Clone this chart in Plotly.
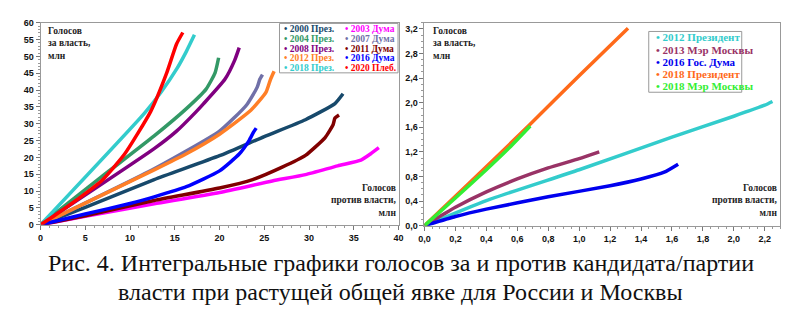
import plotly.graph_objects as go

W, H = 800, 327

# ---------------- Left chart (Russia) ----------------
ru_names = ["2000 През.", "2003 Дума", "2004 През.", "2007 Дума", "2008 През.",
            "2011 Дума", "2012 През.", "2016 Дума", "2018 През.", "2020 Плеб."]
ru_colors = ["#17496B", "#FF00FF", "#339966", "#7070A8", "#800080",
             "#800000", "#FF7F27", "#0000FF", "#33CCCC", "#FF0000"]
ru_x = [
    [0, 5, 12.7, 20, 25, 29.6, 32.9, 33.8],
    [0, 5, 12.7, 20, 25.9, 29.6, 33.2, 35.8, 36.9, 37.8],
    [0, 6.8, 12.7, 16.3, 18.5, 19.5, 19.9],
    [0, 12.7, 20, 23, 24.2, 24.5, 24.8],
    [0, 12.7, 15.2, 17.4, 18.2, 20.6, 21.7, 22.2],
    [0, 5, 12.7, 20, 23.7, 27, 29.6, 31.8, 32.7, 32.9, 33.35],
    [0, 12.7, 16.3, 20, 23.5, 25.2, 25.7, 26.1],
    [0, 5, 10, 12.7, 16.3, 20, 22.2, 23.3, 23.8, 24.1],
    [0, 11.6, 13.5, 15.2, 16.3, 17.2],
    [0, 1.65, 4.2, 6.8, 9.4, 12.3, 14.1, 15.2, 15.9],
]
ru_y = [
    [0, 5.2, 13.4, 20.5, 26.2, 31.2, 36, 38.9],
    [0, 2.5, 6.2, 9.6, 13, 14.9, 17.5, 19.2, 21.1, 22.9],
    [0, 14.2, 26.4, 34.5, 40.3, 45.1, 49.6],
    [0, 16.6, 27.8, 35.5, 40.8, 43.2, 44.6],
    [0, 22.6, 27.8, 33.6, 35.9, 43.2, 48.9, 52.6],
    [0, 2.7, 7.2, 10.9, 13.4, 17.1, 20.6, 25.9, 29.8, 31.7, 32.6],
    [0, 16.3, 21.1, 26.9, 34.0, 39.4, 43.2, 45.6],
    [0, 3.2, 6.3, 8.3, 11.3, 16.0, 21.0, 25.0, 27.5, 28.7],
    [0, 33.1, 39.5, 46.2, 51.5, 56.4],
    [0, 2.9, 7.7, 13.0, 21.0, 33.6, 45.1, 53.7, 57.1],
]
ru_xticks = [0, 5, 10, 15, 20, 25, 30, 35, 40]
ru_yticks = [0, 5, 10, 15, 20, 25, 30, 35, 40, 45, 50, 55, 60]

# ---------------- Right chart (Moscow) ----------------
mo_names = ["2012 Президент", "2013 Мэр Москвы", "2016 Гос. Дума",
            "2018 Президент", "2018 Мэр Москвы"]
mo_colors = ["#33CCCC", "#993366", "#0000EE", "#FF6A1A", "#33EE33"]
mo_x = [
    [0, 0.4, 1.0, 1.6, 2.0, 2.2, 2.25],
    [0, 0.2, 0.4, 0.6, 0.8, 1.0, 1.13],
    [0, 0.2, 0.4, 0.8, 1.2, 1.4, 1.55, 1.64],
    [0, 0.3, 0.68, 1.0, 1.316],
    [0, 0.2, 0.4, 0.55, 0.684],
]
mo_y = [
    [0, 0.41, 0.91, 1.44, 1.78, 1.96, 2.02],
    [0, 0.3, 0.55, 0.76, 0.94, 1.09, 1.2],
    [0, 0.15, 0.27, 0.47, 0.65, 0.76, 0.87, 1.0],
    [0, 0.72, 1.64, 2.44, 3.21],
    [0, 0.45, 0.91, 1.27, 1.62],
]
mo_xticks = [0, 0.2, 0.4, 0.6, 0.8, 1.0, 1.2, 1.4, 1.6, 1.8, 2.0, 2.2]
mo_yticks = [0, 0.4, 0.8, 1.2, 1.6, 2.0, 2.4, 2.8, 3.2]

caption_lines = ["Рис. 4. Интегральные графики голосов за и против кандидата/партии",
                 "власти при растущей общей явке для России и Москвы"]
title_for = "Голосов<br>за власть,<br>млн"
title_against = "Голосов<br>против власти,<br>млн"

SERIF = "Liberation Serif"
SANS = "Liberation Sans"


def px(x):
    return x / W


def py(y):
    return 1 - y / H


fig = go.Figure()

for n, c, xs, ys in zip(ru_names, ru_colors, ru_x, ru_y):
    fig.add_trace(go.Scatter(x=xs, y=ys, mode="lines", name=n, showlegend=False,
                             line=dict(color=c, width=3.5, shape="spline", smoothing=0.5),
                             xaxis="x", yaxis="y"))
for n, c, xs, ys in zip(mo_names, mo_colors, mo_x, mo_y):
    fig.add_trace(go.Scatter(x=xs, y=ys, mode="lines", name=n, showlegend=False,
                             line=dict(color=c, width=3.5, shape="spline", smoothing=0.5),
                             xaxis="x2", yaxis="y2"))

axis_common = dict(showgrid=False, zeroline=False, showline=True, linecolor="#999999",
                   linewidth=1, mirror=True, ticks="outside", ticklen=4, tickcolor="#777777",
                   tickfont=dict(family=SANS, size=9, color="#111111", weight="bold"))

fig.update_layout(
    width=W, height=H, margin=dict(l=0, r=0, t=0, b=0),
    paper_bgcolor="white", plot_bgcolor="white", showlegend=False,
    separators=", ",
    font=dict(family=SERIF),
    xaxis=dict(domain=[px(35), px(398)], range=[0, 40], tickvals=ru_xticks,
               minor=dict(ticks="outside", ticklen=2, dtick=1, tickcolor="#999999"),
               anchor="y", **axis_common),
    yaxis=dict(domain=[py(226.7), py(18.3)], range=[0, 60], tickvals=ru_yticks,
               minor=dict(ticks="outside", ticklen=2, dtick=1, tickcolor="#999999"),
               anchor="x", **axis_common),
    xaxis2=dict(domain=[px(424.3), px(785)], range=[0, 2.3], tickvals=mo_xticks,
                tickformat=".1f",
                minor=dict(ticks="outside", ticklen=2, dtick=0.05, tickcolor="#999999"),
                anchor="y2", **axis_common),
    yaxis2=dict(domain=[py(227.7), py(18.3)], range=[0, 3.3], tickvals=mo_yticks,
                tickformat=".1f",
                minor=dict(ticks="outside", ticklen=2, dtick=0.1, tickcolor="#999999"),
                anchor="x2", **axis_common),
)

ann = []
lab_font = dict(family=SERIF, size=9.5, color="#222222", weight="bold")
# axis titles inside plots
ann.append(dict(text=title_for, x=px(41), y=py(20), xref="paper", yref="paper",
                xanchor="left", yanchor="top", align="left", showarrow=False, font=lab_font))
ann.append(dict(text=title_against, x=px(397), y=py(222), xref="paper", yref="paper",
                xanchor="right", yanchor="bottom", align="right", showarrow=False, font=lab_font))
ann.append(dict(text=title_for, x=px(431), y=py(20), xref="paper", yref="paper",
                xanchor="left", yanchor="top", align="left", showarrow=False, font=lab_font))
ann.append(dict(text=title_against, x=px(784), y=py(222), xref="paper", yref="paper",
                xanchor="right", yanchor="bottom", align="right", showarrow=False, font=lab_font))

# left legend (2 columns, row-major)
for i, (n, c) in enumerate(zip(ru_names, ru_colors)):
    col = i % 2
    row = i // 2
    xpix = 280 if col == 0 else 341.5
    ypix = 25 + row * 10
    ann.append(dict(text="• " + n, x=px(xpix), y=py(ypix), xref="paper", yref="paper",
                    xanchor="left", yanchor="middle", showarrow=False,
                    font=dict(family=SERIF, size=9.5, color=c, weight="bold")))
# right legend
for i, (n, c) in enumerate(zip(mo_names, mo_colors)):
    ypix = 33.5 + i * 12.6
    ann.append(dict(text="• " + n, x=px(657), y=py(ypix), xref="paper", yref="paper",
                    xanchor="left", yanchor="middle", showarrow=False,
                    font=dict(family=SERIF, size=11, color=c, weight="bold")))

# caption (two lines)
for line, ypix in zip(caption_lines, [266, 296]):
    ann.append(dict(text=line, x=0.5, y=py(ypix), xref="paper", yref="paper",
                    xanchor="center", yanchor="middle", align="center", showarrow=False,
                    font=dict(family=SERIF, size=24, color="#111111")))

fig.update_layout(annotations=ann)

shapes = [
    dict(type="rect", xref="paper", yref="paper", x0=px(277.3), x1=px(397.5),
         y0=py(70), y1=py(19), line=dict(color="#999999", width=1), fillcolor="white",
         layer="above"),
    dict(type="rect", xref="paper", yref="paper", x0=px(651.7), x1=px(746),
         y0=py(90), y1=py(27.3), line=dict(color="#999999", width=1), fillcolor="white",
         layer="above"),
]
fig.update_layout(shapes=shapes)

fig.write_html("out.html")
